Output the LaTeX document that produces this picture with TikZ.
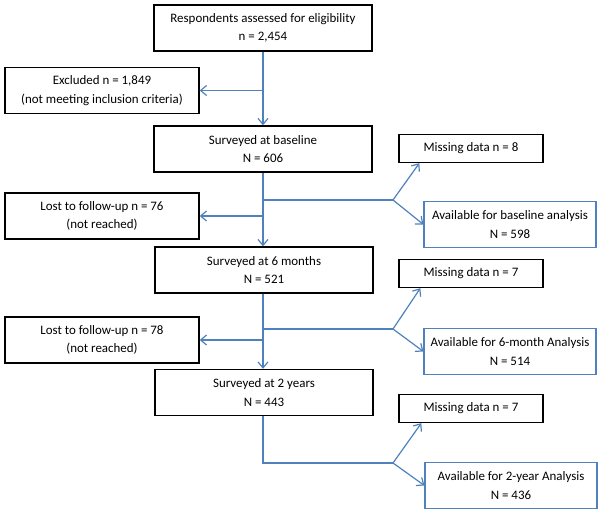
\documentclass[tikz,border=0pt]{standalone}
\usepackage{fontspec}
\setmainfont{Carlito}
\usetikzlibrary{calc,arrows.meta}
\definecolor{flowblue}{RGB}{79,129,189}

\begin{document}
\begin{tikzpicture}[x=0.75pt,y=-0.75pt,
    font=\fontsize{9.7}{13.8}\selectfont,
    box/.style={draw=black,line width=1pt,align=center,inner sep=0pt,
                minimum height=34.5pt},
    mainbox/.style={box,minimum width=163.5pt},
    sidebox/.style={box,minimum width=145.5pt},
    missbox/.style={box,minimum width=108pt,minimum height=21pt},
    availbox/.style={box,draw=flowblue,line width=0.85pt,minimum width=129pt},
    link/.style={draw=flowblue,line width=0.9pt},
    arr/.style={link,-{Straight Barb[length=4.5pt,width=7.5pt]}}]
  \useasboundingbox (0,0) rectangle (601,514);
  % main column
  \node[mainbox] (resp)  at (263,28)    {Respondents assessed for eligibility\\n = 2,454};
  \node[mainbox] (base)  at (263,149)   {Surveyed at baseline\\N = 606};
  \node[mainbox] (six)   at (264,270)   {Surveyed at 6 months\\N = 521};
  \node[mainbox] (two)   at (264,392.5) {Surveyed at 2 years\\N = 443};
  % left column
  \node[sidebox] (excl)  at (102,90.5)  {Excluded n = 1,849\\(not meeting inclusion criteria)};
  \node[sidebox] (lost1) at (102,216)   {Lost to follow-up n = 76\\(not reached)};
  \node[sidebox] (lost2) at (102,340)   {Lost to follow-up n = 78\\(not reached)};
  % right column
  \node[missbox]  (miss1)  at (471,148.5) {Missing data n = 8};
  \node[availbox] (avail1) at (510,224.5) {Available for baseline analysis\\N = 598};
  \node[missbox]  (miss2)  at (471,273.5) {Missing data n = 7};
  \node[availbox] (avail2) at (510,351.5) {Available for 6-month Analysis\\N = 514};
  \node[missbox]  (miss3)  at (471,408.5) {Missing data n = 7};
  \node[availbox] (avail3) at (511,485.5) {Available for 2-year Analysis\\N = 436};
  \coordinate (j1) at (393,200);
  \coordinate (j2) at (393,329);
  \coordinate (j3) at (393,463);
  % connectors
  \draw[arr] (resp.south) -- (base.north);
  \draw[arr] (resp.south |- excl.east) -- (excl.east);
  \draw[arr] (base.south) -- (base.south |- six.north);
  \draw[arr] (base.south |- lost1.east) -- (lost1.east);
  \draw[link] (base.south |- j1) -- (j1);
  \draw[arr] (j1) -- ($(miss1.south west)+(21,0)$);
  \draw[arr] (j1) -- (avail1.west);
  \draw[arr] (six.south -| base.south) -- (base.south |- two.north);
  \draw[arr] (base.south |- lost2.east) -- (lost2.east);
  \draw[link] (base.south |- j2) -- (j2);
  \draw[arr] (j2) -- ($(miss2.south west)+(22,0)$);
  \draw[arr] (j2) -- (avail2.west);
  \draw[link] (two.south -| base.south) |- (j3);
  \draw[arr] (j3) -- ($(miss3.south west)+(23,0)$);
  \draw[arr] (j3) -- (avail3.west);
\end{tikzpicture}
\end{document}
